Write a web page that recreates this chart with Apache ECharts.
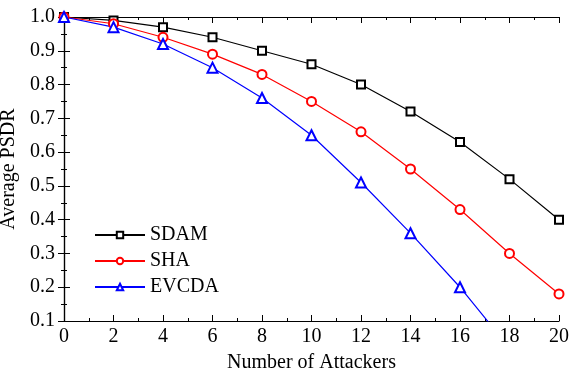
<!DOCTYPE html>
<html>
<head>
<meta charset="utf-8">
<script src="https://cdn.jsdelivr.net/npm/echarts@6/dist/echarts.min.js"></script>
<style>html,body{margin:0;padding:0;background:#fff}#c{width:570px;height:374px}</style>
</head>
<body>
<div id="c"></div>
<script>
var xValues = [0, 2, 4, 6, 8, 10, 12, 14, 16, 18, 20];
var sdam = [1.0, 0.99, 0.97, 0.94, 0.90, 0.86, 0.80, 0.72, 0.63, 0.52, 0.40];
var sha = [1.0, 0.98, 0.94, 0.89, 0.83, 0.75, 0.66, 0.55, 0.43, 0.30, 0.18];
var evcda = [1.0, 0.97, 0.92, 0.85, 0.76, 0.65, 0.51, 0.36, 0.20, 0.02];
var seriesNames = ['SDAM', 'SHA', 'EVCDA'];
var xTitle = 'Number of Attackers';
var yTitle = 'Average PSDR';

var FONT = '"Liberation Serif", "Times New Roman", serif';
function pairs(arr) { return arr.map(function (v, i) { return [xValues[i], v]; }); }

var chart = echarts.init(document.getElementById('c'));
var tickBase = { show: true, inside: true, length: 6, lineStyle: { color: '#000', width: 1 } };
var minorBase = { show: true, splitNumber: 2, length: 3, lineStyle: { color: '#000', width: 1 } };
var lineBase = { show: true, lineStyle: { color: '#000', width: 1.2 } };
var labelBase = { fontFamily: FONT, fontSize: 20, color: '#000' };

chart.setOption({
  backgroundColor: '#fff',
  animation: false,
  grid: { left: 64, right: 11, top: 17, bottom: 53, containLabel: false, outerBoundsMode: 'none' },
  legend: {
    orient: 'vertical', left: 89, top: 220,
    itemWidth: 50, itemHeight: 8, itemGap: 6,
    textStyle: { fontFamily: FONT, fontSize: 20, color: '#000' },
    data: seriesNames
  },
  xAxis: [{
    type: 'value', min: 0, max: 20, interval: 2, position: 'bottom',
    axisLine: lineBase, axisTick: tickBase, minorTick: minorBase,
    splitLine: { show: false },
    axisLabel: Object.assign({ margin: 6 }, labelBase),
    name: xTitle, nameLocation: 'middle', nameGap: 32,
    nameTextStyle: { fontFamily: FONT, fontSize: 20, color: '#000' }
  }, {
    type: 'value', min: 0, max: 20, interval: 2, position: 'top',
    axisLine: lineBase, axisTick: tickBase, minorTick: minorBase,
    splitLine: { show: false }, axisLabel: { show: false }
  }],
  yAxis: [{
    type: 'value', min: 0.1, max: 1.0, interval: 0.1, position: 'left',
    axisLine: lineBase, axisTick: tickBase, minorTick: minorBase,
    splitLine: { show: false },
    axisLabel: Object.assign({ margin: 9, formatter: function (v) { return v.toFixed(1); } }, labelBase),
    name: yTitle, nameLocation: 'middle', nameGap: 38, nameRotate: 90,
    nameTextStyle: { fontFamily: FONT, fontSize: 20, color: '#000' }
  }, {
    type: 'value', min: 0.1, max: 1.0, interval: 0.1, position: 'right',
    axisLine: lineBase, axisTick: tickBase, minorTick: minorBase,
    splitLine: { show: false }, axisLabel: { show: false }
  }],
  series: [{
    name: seriesNames[0], type: 'line', data: pairs(sdam),
    symbol: 'emptyRect', symbolSize: 8, clip: true,
    itemStyle: { color: '#000', borderWidth: 1.2 }, lineStyle: { color: '#000', width: 1.2 }
  }, {
    name: seriesNames[1], type: 'line', data: pairs(sha),
    symbol: 'emptyCircle', symbolSize: 9, clip: true,
    itemStyle: { color: '#ff0000', borderWidth: 1.2 }, lineStyle: { color: '#ff0000', width: 1.2 }
  }, {
    name: seriesNames[2], type: 'line', data: pairs(evcda),
    symbol: 'emptyTriangle', symbolSize: 10, clip: true,
    itemStyle: { color: '#0000ff', borderWidth: 1.2 }, lineStyle: { color: '#0000ff', width: 1.2 }
  }]
});
</script>
</body>
</html>
